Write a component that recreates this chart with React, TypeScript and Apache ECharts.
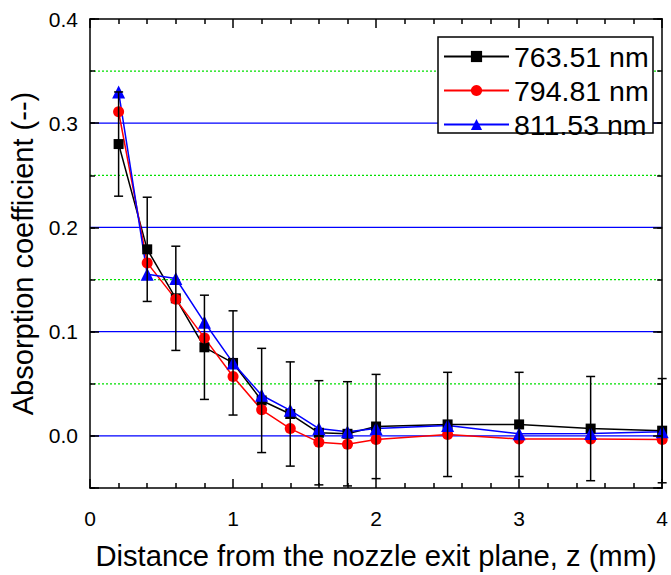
import React, { useEffect, useRef } from 'react';
import * as echarts from 'echarts';

const distances = [0.2, 0.4, 0.6, 0.8, 1.0, 1.2, 1.4, 1.6, 1.8, 2.0, 2.5, 3.0, 3.5, 4.0];
const abs763 = [0.280, 0.179, 0.132, 0.085, 0.070, 0.034, 0.021, 0.003, 0.002, 0.009, 0.011, 0.011, 0.007, 0.005];
const err763 = [0.05, 0.05, 0.05, 0.05, 0.05, 0.05, 0.05, 0.05, 0.05, 0.05, 0.05, 0.05, 0.05, 0.05];
const abs794 = [0.311, 0.166, 0.131, 0.094, 0.057, 0.025, 0.007, -0.006, -0.008, -0.0035, 0.0013, -0.003, -0.003, -0.0035];
const abs811 = [0.330, 0.155, 0.151, 0.109, 0.070, 0.039, 0.0245, 0.007, 0.004, 0.007, 0.010, 0.002, 0.0023, 0.004];
const seriesNames = ['763.51 nm', '794.81 nm', '811.53 nm'];
const majorGridValues = [0, 0.1, 0.2, 0.3];
const minorGridValues = [0.05, 0.15, 0.25, 0.35];
const xTitle = 'Distance from the nozzle exit plane, z (mm)';
const yTitle = 'Absorption coefficient (--)';

const FONT = '"Liberation Sans", Arial, Helvetica, sans-serif';
const AXIS_LINE = { color: '#000', width: 1.5 };

function isMajor(v: number) {
  return Math.abs(v * 10 - Math.round(v * 10)) < 1e-6;
}

export default function App() {
  const ref = useRef<HTMLDivElement>(null);
  useEffect(() => {
    if (!ref.current) return;
    const chart = echarts.init(ref.current, undefined, { renderer: 'svg' });

    const yBase: any = {
      type: 'value',
      min: -0.05,
      max: 0.4,
      z: 10,
      splitLine: { show: false },
      axisLine: { show: true, onZero: false, lineStyle: AXIS_LINE },
      axisLabel: { show: false },
    };
    const xBase: any = {
      type: 'value',
      min: 0,
      max: 4,
      interval: 1,
      z: 10,
      splitLine: { show: false },
      axisLine: { show: true, onZero: false, lineStyle: AXIS_LINE },
      axisTick: { inside: true, length: 9, lineStyle: AXIS_LINE },
      minorTick: { show: true, splitNumber: 5, length: 5, lineStyle: AXIS_LINE },
    };

    const lineSeries = (name: string, values: number[], color: string, symbol: string, size: number) => ({
      type: 'line',
      name,
      data: distances.map((x, i) => [x, values[i]]),
      symbol,
      symbolSize: size,
      lineStyle: { color, width: 1.5 },
      itemStyle: { color },
      xAxisIndex: 0,
      yAxisIndex: 0,
      z: 3,
    });

    const gridSeries = (name: string, values: number[], stroke: string, width: number, dash: number[] | null) => ({
      type: 'custom',
      name,
      silent: true,
      z: 1,
      xAxisIndex: 0,
      yAxisIndex: 0,
      encode: { y: 0 },
      data: values.map((v) => [v]),
      renderItem: (params: any, api: any) => {
        const cs = params.coordSys;
        const p = api.coord([0, api.value(0)]);
        const style: any = { stroke, lineWidth: width };
        if (dash) style.lineDash = dash;
        return {
          type: 'line',
          shape: { x1: cs.x, y1: p[1], x2: cs.x + cs.width, y2: p[1] },
          style,
        };
      },
    });

    const option: any = {
      animation: false,
      grid: { left: 90, top: 19, right: 1, bottom: 87, containLabel: false },
      xAxis: [
        {
          ...xBase,
          position: 'bottom',
          axisLabel: { fontSize: 21, margin: 20, color: '#000', fontFamily: FONT },
          name: xTitle,
          nameLocation: 'middle',
          nameGap: 53,
          nameTextStyle: { fontSize: 29.2, color: '#000', fontFamily: FONT },
        },
        { ...xBase, position: 'top', axisLabel: { show: false } },
      ],
      yAxis: [
        {
          ...yBase,
          position: 'left',
          interval: 0.05,
          axisTick: { inside: true, length: 5, lineStyle: AXIS_LINE },
          axisLabel: {
            show: true,
            fontSize: 21,
            margin: 12,
            color: '#000',
            fontFamily: FONT,
            formatter: (v: number) => (isMajor(v) ? v.toFixed(1) : ''),
          },
          name: yTitle,
          nameLocation: 'middle',
          nameGap: 48,
          nameTextStyle: { fontSize: 29, color: '#000', fontFamily: FONT },
        },
        {
          ...yBase,
          position: 'left',
          axisLine: { show: false, onZero: false },
          axisTick: { inside: true, length: 9, lineStyle: AXIS_LINE },
        },
        {
          ...yBase,
          position: 'right',
          interval: 0.05,
          axisTick: { inside: true, length: 5, lineStyle: AXIS_LINE },
        },
        {
          ...yBase,
          position: 'right',
          axisLine: { show: false, onZero: false },
          axisTick: { inside: true, length: 9, lineStyle: AXIS_LINE },
        },
      ],
      legend: {
        data: seriesNames,
        orient: 'vertical',
        left: 443,
        top: 42,
        padding: 0,
        itemWidth: 65,
        itemHeight: 14,
        itemGap: 5,
        selectedMode: false,
        z: 20,
        textStyle: { fontSize: 28.5, lineHeight: 26, color: '#000', fontFamily: FONT },
      },
      graphic: [
        {
          type: 'rect',
          z: 5,
          silent: true,
          shape: { x: 438, y: 37, width: 215, height: 96 },
          style: { fill: '#fff', stroke: '#000', lineWidth: 1.5 },
        },
      ],
      series: [
        gridSeries('__major', majorGridValues, '#0000ff', 1.3, null),
        gridSeries('__minor', minorGridValues, '#00e000', 1.3, [2, 2]),
        lineSeries(seriesNames[0], abs763, '#000000', 'rect', 10),
        lineSeries(seriesNames[1], abs794, '#ff0000', 'circle', 11),
        lineSeries(seriesNames[2], abs811, '#0000ff', 'triangle', 13),
        {
          type: 'custom',
          name: '__err',
          silent: true,
          z: 4,
          xAxisIndex: 0,
          yAxisIndex: 0,
          clip: false,
          encode: { x: 0, y: [1, 2] },
          data: distances.map((x, i) => [x, abs763[i] - err763[i], abs763[i] + err763[i]]),
          renderItem: (_params: any, api: any) => {
            const x = api.value(0);
            const lo = api.coord([x, api.value(1)]);
            const hi = api.coord([x, api.value(2)]);
            const hw = 4.5;
            const style = { stroke: '#000', lineWidth: 1.5 };
            return {
              type: 'group',
              children: [
                { type: 'line', shape: { x1: lo[0], y1: lo[1], x2: hi[0], y2: hi[1] }, style },
                { type: 'line', shape: { x1: lo[0] - hw, y1: lo[1], x2: lo[0] + hw, y2: lo[1] }, style },
                { type: 'line', shape: { x1: hi[0] - hw, y1: hi[1], x2: hi[0] + hw, y2: hi[1] }, style },
              ],
            };
          },
        },
      ],
    };

    chart.setOption(option);
    return () => chart.dispose();
  }, []);

  return <div ref={ref} style={{ width: 671, height: 575, position: 'absolute', left: 0, top: 0 }} />;
}
